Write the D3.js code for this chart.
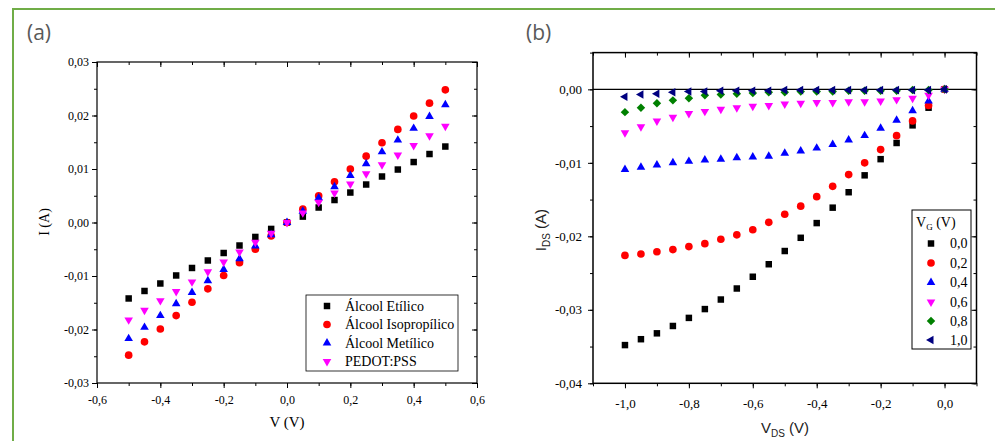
<!DOCTYPE html>
<html>
<head>
<meta charset="utf-8">
<script src="https://cdn.jsdelivr.net/npm/d3@7"></script>
<style>
  body { margin: 0; background: #fff; }
  svg text { font-family: "Liberation Serif", "Times New Roman", serif; fill: #000; }
  .sans { font-family: "Liberation Sans", Arial, sans-serif; }
  .panel-tag { font-family: "Open Sans", "Noto Sans", sans-serif; fill: #595959; }
</style>
</head>
<body>
<div id="chart"></div>
<script>
// Data (a): I x V for the solvents
const voltageA = [-0.5, -0.45, -0.4, -0.35, -0.3, -0.25, -0.2, -0.15, -0.1, -0.05, 0, 0.05, 0.1, 0.15, 0.2, 0.25, 0.3, 0.35, 0.4, 0.45, 0.5]
const etilico = [-0.0142, -0.0128, -0.0114, -0.0099, -0.0085, -0.0071, -0.0057, -0.0043, -0.0027, -0.0012, 0, 0.0011, 0.0028, 0.0042, 0.0056, 0.0071, 0.0086, 0.0099, 0.0113, 0.0128, 0.0142]
const isopropilico = [-0.0248, -0.0223, -0.0199, -0.0174, -0.0149, -0.0124, -0.0099, -0.0075, -0.0050, -0.0025, 0, 0.0025, 0.0050, 0.0076, 0.0100, 0.0124, 0.0149, 0.0174, 0.0199, 0.0223, 0.0248]
const metilico = [-0.0217, -0.0196, -0.0174, -0.0152, -0.0131, -0.0109, -0.0088, -0.0068, -0.0044, -0.0023, 0, 0.0021, 0.0046, 0.0067, 0.0088, 0.0110, 0.0132, 0.0154, 0.0176, 0.0198, 0.0220]
const pedot = [-0.0182, -0.0164, -0.0146, -0.0129, -0.0111, -0.0092, -0.0074, -0.0055, -0.0037, -0.0020, 0, 0.0018, 0.0038, 0.0055, 0.0072, 0.0091, 0.0108, 0.0126, 0.0144, 0.0162, 0.0180]
const namesA = ["Álcool Etílico", "Álcool Isopropílico", "Álcool Metílico", "PEDOT:PSS"]

// Data (b): IDS x VDS for each VG
const vds = [-1, -0.95, -0.9, -0.85, -0.8, -0.75, -0.7, -0.65, -0.6, -0.55, -0.5, -0.45, -0.4, -0.35, -0.3, -0.25, -0.2, -0.15, -0.1, -0.05, 0]
const vg00 = [-0.0348, -0.0340, -0.0332, -0.0322, -0.0311, -0.0299, -0.0286, -0.0271, -0.0255, -0.0238, -0.0220, -0.0202, -0.0182, -0.0161, -0.0140, -0.0117, -0.0095, -0.0073, -0.0049, -0.0025, 0]
const vg02 = [-0.0226, -0.0224, -0.0221, -0.0218, -0.0214, -0.0210, -0.0204, -0.0198, -0.0191, -0.0181, -0.0170, -0.0159, -0.0146, -0.0132, -0.0116, -0.0100, -0.0082, -0.0063, -0.0043, -0.0022, 0]
const vg04 = [-0.0109, -0.0106, -0.0103, -0.0100, -0.0098, -0.0096, -0.0095, -0.0093, -0.0092, -0.0091, -0.0087, -0.0084, -0.0080, -0.0075, -0.0069, -0.0063, -0.0053, -0.0042, -0.0029, -0.0016, 0]
const vg06 = [-0.0059, -0.0051, -0.0043, -0.0038, -0.0033, -0.0030, -0.0027, -0.0025, -0.0023, -0.0022, -0.0020, -0.0019, -0.0018, -0.0018, -0.0017, -0.0017, -0.0016, -0.0014, -0.0012, -0.0008, 0]
const vg08 = [-0.0031, -0.0025, -0.0019, -0.0015, -0.0012, -0.0008, -0.0007, -0.0006, -0.0005, -0.0004, -0.0004, -0.0003, -0.0003, -0.0003, -0.0002, -0.0002, -0.0002, -0.0002, -0.0001, -0.0001, 0]
const vg10 = [-0.0010, -0.0007, -0.0006, -0.0004, -0.0003, -0.0003, -0.0002, -0.0002, -0.0002, -0.0002, -0.0001, -0.0001, -0.0001, -0.0001, -0.0001, -0.0001, -0.0001, -0.0001, -0.0001, -0.0001, 0]
const namesB = ["0,0", "0,2", "0,4", "0,6", "0,8", "1,0"]

// markers: symbol type, area, rotation
const markers = {
  square: { type: d3.symbolSquare, size: 42, rot: 0, color: "#000000" },
  circle: { type: d3.symbolCircle, size: 46, rot: 0, color: "#ff0000" },
  up: { type: d3.symbolTriangle, size: 32, rot: 0, color: "#0000ff" },
  down: { type: d3.symbolTriangle, size: 32, rot: 180, color: "#ff00ff" },
  diamond: { type: d3.symbolSquare, size: 36, rot: 45, color: "#008000" },
  left: { type: d3.symbolTriangle, size: 32, rot: -90, color: "#000080" }
}

const seriesA = [
  { name: namesA[0], values: etilico, marker: markers.square },
  { name: namesA[1], values: isopropilico, marker: markers.circle },
  { name: namesA[2], values: metilico, marker: markers.up },
  { name: namesA[3], values: pedot, marker: markers.down }
]
const seriesB = [
  { name: namesB[0], values: vg00, marker: markers.square },
  { name: namesB[1], values: vg02, marker: markers.circle },
  { name: namesB[2], values: vg04, marker: markers.up },
  { name: namesB[3], values: vg06, marker: markers.down },
  { name: namesB[4], values: vg08, marker: markers.diamond },
  { name: namesB[5], values: vg10, marker: markers.left }
]

const locale = d3.formatLocale({ decimal: ",", thousands: ".", grouping: [3], currency: ["", ""], minus: "-" })
const fmt1 = locale.format(".1f")
const fmt2 = locale.format(".2f")

const svg = d3.select("#chart")
  .append("svg")
  .attr("width", 995)
  .attr("height", 441)

svg.append("rect")
  .attr("width", 995).attr("height", 441)
  .attr("fill", "#fff")

// green slide border
svg.append("rect")
  .attr("x", 13).attr("y", 9)
  .attr("width", 1100).attr("height", 600)
  .attr("fill", "none")
  .attr("stroke", "#70ad47")
  .attr("stroke-width", 2)

function panel(opt) {
  const ctr = svg.append("g")
    .attr("transform", `translate(${opt.left}, ${opt.top})`)

  const xScale = d3.scaleLinear().domain(opt.xDomain).range([0, opt.width])
  const yScale = d3.scaleLinear().domain(opt.yDomain).range([opt.height, 0])

  const xMajor = xScale.ticks(opt.xTicks)
  const xMinor = xScale.ticks(opt.xTicks * 2)
  const yMajor = yScale.ticks(opt.yTicks)
  const yMinor = yScale.ticks(opt.yTicks * 2)

  function axisGroup(axis, transform) {
    const g = ctr.append("g")
      .attr("transform", transform)
      .call(axis)
    g.select(".domain").remove()
    g.selectAll("text").style("font-size", opt.fontSize + "px").style("font-family", null)
    return g
  }

  // minor ticks
  axisGroup(d3.axisBottom(xScale).tickValues(xMinor).tickSize(3).tickFormat(""), `translate(0, ${opt.height})`)
  axisGroup(d3.axisLeft(yScale).tickValues(yMinor).tickSize(3).tickFormat(""), "")
  axisGroup(d3.axisBottom(xScale).tickValues(xMinor).tickSize(3).tickFormat(""), "")
  axisGroup(d3.axisLeft(yScale).tickValues(yMinor).tickSize(3).tickFormat(""), `translate(${opt.width}, 0)`)
  // major ticks
  axisGroup(d3.axisBottom(xScale).tickValues(xMajor).tickSize(5).tickPadding(opt.xPad).tickFormat(opt.xFormat), `translate(0, ${opt.height})`)
  axisGroup(d3.axisLeft(yScale).tickValues(yMajor).tickSize(5).tickPadding(opt.yPad).tickFormat(opt.yFormat), "")
  axisGroup(d3.axisBottom(xScale).tickValues(xMajor).tickSize(5).tickFormat(""), "")
  axisGroup(d3.axisLeft(yScale).tickValues(yMajor).tickSize(5).tickFormat(""), `translate(${opt.width}, 0)`)

  ctr.append("rect")
    .attr("width", opt.width)
    .attr("height", opt.height)
    .attr("fill", "none")
    .attr("stroke", "#000")
    .attr("stroke-width", opt.frame)

  return { ctr, xScale, yScale }
}

function drawSeries(p, xs, series) {
  series.forEach(s => {
    const m = s.marker
    p.ctr.append("g").selectAll("path")
      .data(s.values.map((v, i) => [xs[i], v]))
      .join("path")
      .attr("d", d3.symbol(m.type, m.size))
      .attr("transform", d => `translate(${p.xScale(d[0])}, ${p.yScale(d[1])}) rotate(${m.rot})`)
      .attr("fill", m.color)
  })
}

function drawLegend(rows, x0, y0, markerX, textX, rowY) {
  rows.forEach((s, i) => {
    const m = s.marker
    svg.append("path")
      .attr("d", d3.symbol(m.type, m.size)())
      .attr("transform", `translate(${markerX}, ${rowY[i]}) rotate(${m.rot})`)
      .attr("fill", m.color)
    svg.append("text")
      .attr("x", textX)
      .attr("y", rowY[i])
      .attr("dy", "0.35em")
      .style("font-size", "14px")
      .text(s.name)
  })
}

// ---------- Panel (a)
const pa = panel({
  left: 97, top: 62, width: 380, height: 321,
  xDomain: [-0.6, 0.6], yDomain: [-0.03, 0.03],
  xTicks: 6, yTicks: 6,
  xFormat: fmt1, yFormat: fmt2,
  fontSize: 12, xPad: 7, yPad: 3, frame: 1.2
})
drawSeries(pa, voltageA, seriesA)

svg.append("text").attr("class", "panel-tag")
  .attr("x", 27).attr("y", 40).style("font-size", "21px").text("(a)")

svg.append("text")
  .attr("transform", "translate(49, 222) rotate(-90)")
  .attr("text-anchor", "middle")
  .style("font-size", "14px")
  .text("I (A)")

svg.append("text")
  .attr("x", 287).attr("y", 427)
  .attr("text-anchor", "middle")
  .style("font-size", "15px")
  .text("V (V)")

svg.append("rect")
  .attr("x", 306).attr("y", 295).attr("width", 152).attr("height", 76)
  .attr("fill", "#fff").attr("stroke", "#000").attr("stroke-width", 0.8)
drawLegend(seriesA, 306, 295, 327, 345, [306, 324.5, 343, 361.5])

// ---------- Panel (b)
const pb = panel({
  left: 593, top: 52.6, width: 383.5, height: 330.7,
  xDomain: [-1.1, 0.1], yDomain: [-0.04, 0.005],
  xTicks: 6, yTicks: 5,
  xFormat: fmt1, yFormat: fmt2,
  fontSize: 13, xPad: 10, yPad: 6, frame: 1.5
})

pb.ctr.append("line")
  .attr("x1", 0).attr("x2", 383.5)
  .attr("y1", pb.yScale(0)).attr("y2", pb.yScale(0))
  .attr("stroke", "#000").attr("stroke-width", 1.3)

drawSeries(pb, vds, seriesB)

svg.append("text").attr("class", "panel-tag")
  .attr("x", 526).attr("y", 40).style("font-size", "21px").text("(b)")

const ylab = svg.append("text").attr("class", "sans")
  .attr("transform", "translate(546, 230) rotate(-90)")
  .attr("text-anchor", "middle")
  .style("font-size", "15px")
  .style("fill", "#222")
ylab.append("tspan").text("I")
ylab.append("tspan").attr("dy", 4).style("font-size", "10px").text("DS")
ylab.append("tspan").attr("dy", -4).text(" (A)")

const xlab = svg.append("text").attr("class", "sans")
  .attr("x", 785).attr("y", 433)
  .attr("text-anchor", "middle")
  .style("font-size", "15px")
  .style("fill", "#222")
xlab.append("tspan").text("V")
xlab.append("tspan").attr("dy", 4).style("font-size", "10px").text("DS")
xlab.append("tspan").attr("dy", -4).text(" (V)")

svg.append("rect")
  .attr("x", 912).attr("y", 210).attr("width", 59).attr("height", 139)
  .attr("fill", "#fff").attr("stroke", "#000").attr("stroke-width", 1)

const title = svg.append("text")
  .attr("x", 916).attr("y", 227)
  .style("font-size", "14px")
title.append("tspan").text("V")
title.append("tspan").attr("dy", 3).style("font-size", "9px").text("G")
title.append("tspan").attr("dy", -3).text(" (V)")

drawLegend(seriesB, 912, 210, 931, 950, [243.5, 263, 282.5, 302, 321, 340])
</script>
</body>
</html>
